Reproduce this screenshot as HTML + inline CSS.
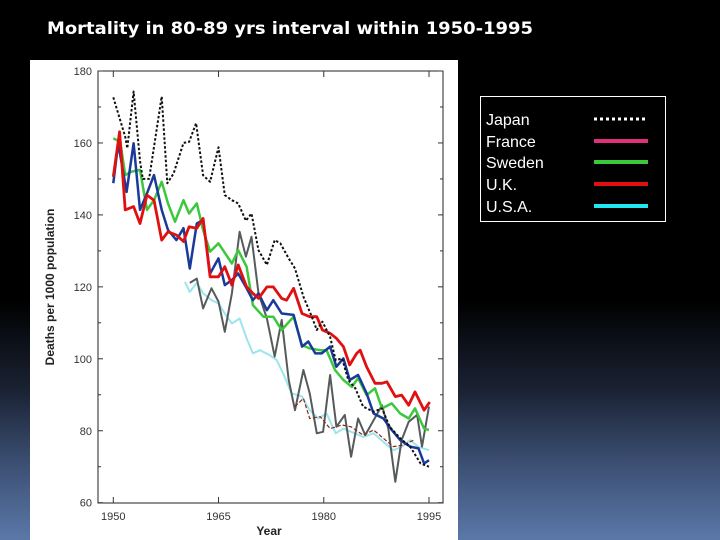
<!DOCTYPE html>
<html><head><meta charset="utf-8"><style>
html,body{margin:0;padding:0;}
body{width:720px;height:540px;overflow:hidden;background:linear-gradient(to bottom,#000 0px,#000 300px,#1a2233 390px,#3a4d70 460px,#5b78a8 540px);font-family:"Liberation Sans",sans-serif;position:relative;}
</style></head><body>
<svg id="chart" width="720" height="540" style="position:absolute;left:0;top:0">
<text x="47" y="34" font-family="DejaVu Sans, sans-serif" font-weight="bold" font-size="17" fill="#fff" textLength="486" lengthAdjust="spacingAndGlyphs">Mortality in 80-89 yrs interval within 1950-1995</text>
</svg>
<script>
const xTicks=[1950,1965,1980,1995];
const yTicks=[60,80,100,120,140,160,180];
const legendLabels=["Japan","France","Sweden","U.K.","U.S.A."];
const legendColors=["#fff","#e0307a","#3cc83c","#e01010","#20e8f0"];
const japanYears=[1950,1951.7,1952,1952.9,1953.8,1954.2,1955.1,1956.9,1957.7,1958.6,1960,1960.8,1961.8,1962.8,1963.8,1965,1965.9,1966.9,1967.8,1968.9,1969.7,1970.7,1971.9,1973,1973.8,1975,1975.9,1977.1,1978.3,1979,1979.8,1980.9,1981.7,1982.6,1983.5,1984.5,1985.6,1987.1,1988.3,1989.4,1990.9,1992.3,1993.8,1995];
const japanVals=[172.7,161.7,158.5,174.3,155,150,150,172.9,148.8,151.5,160,160.3,165.5,151,149.2,158.8,145.5,144.1,143.2,138.4,140.4,130.2,126.1,133,132.1,127.9,125.1,117.3,111.7,108,110.3,106.1,99.6,100.1,94.1,91.8,86.7,85.3,86.2,81.1,77.9,75.6,70.9,70];
const blueYears=[1950,1950.7,1951.9,1952.9,1953.8,1954.8,1955.8,1956.9,1957.8,1959,1960,1960.9,1961.9,1962.8,1963.8,1965,1965.9,1966.9,1967.8,1969,1969.9,1970.7,1971.9,1972.8,1974,1975.7,1976.9,1977.8,1978.8,1979.7,1980.9,1981.8,1982.8,1983.7,1984.9,1986.1,1987.1,1988.5,1989.7,1990.9,1992.3,1993.5,1994.3,1995];
const blueVals=[148.8,159.9,146.4,159.9,141.4,146,151.1,141.4,135.8,133,136.3,125.1,137.6,138.6,123.7,127.9,120.5,121.9,123.7,119.6,116.3,118.2,113.5,116.3,112.6,112.2,103.4,104.8,101.5,101.5,103.4,97.8,100.1,94.1,95.5,90.4,84.8,83.4,80.2,77.4,75.6,75.1,70.9,71.8];
const swedenYears=[1950,1951,1951.7,1952.6,1953.8,1954.8,1955.8,1956.9,1957.8,1958.8,1960,1960.8,1961.9,1962.8,1963.8,1965,1966.9,1967.8,1969,1969.9,1971.4,1972.8,1974,1975.7,1976.9,1978,1979.5,1980.4,1981.6,1982.8,1984,1984.9,1986.1,1987.3,1988.3,1989.7,1990.9,1992.1,1993,1994.3,1995];
const swedenVals=[161.3,160.3,151.1,152,152.5,141.4,144.1,149.2,143.2,138.1,144.1,140.4,143.2,135.8,129.8,132.1,126.5,130.2,125.6,114.9,111.7,111.7,108,111.7,103.8,102.9,102.4,102.4,96.9,94.1,92.2,94.6,89.9,91.8,86.2,87.6,84.8,83.4,86.2,80.6,80.2];
const ukYears=[1950,1950.9,1951.7,1952.9,1953.8,1954.8,1955.8,1956.9,1957.8,1959,1960,1960.8,1961.9,1962.8,1963.8,1965,1965.9,1966.9,1967.8,1969,1969.9,1970.7,1971.9,1972.8,1974,1974.7,1975.7,1976.9,1978,1979,1979.8,1980.9,1981.8,1982.8,1983.7,1984.7,1985.2,1986.1,1987.3,1988.3,1989,1990.2,1991.1,1992.1,1993,1994.3,1995.1];
const ukVals=[150.6,163.1,141.4,142.3,137.6,145.5,144.1,133,135.3,134.4,132.6,136.7,136.3,139,122.8,122.8,125.6,120.5,126.1,120,118.2,116.8,120,120,116.8,116.3,119.6,112.6,111.7,111.7,108,107.1,105.7,103.4,98.3,101.5,102.4,97.8,93.2,93.2,93.6,89.5,89.9,87.1,90.8,85.7,88];
const grayYears=[1960.9,1961.9,1962.8,1964,1965,1965.9,1966.9,1968,1968.9,1969.7,1970.7,1971.9,1973,1974,1975,1975.9,1977.1,1978,1979,1979.9,1980.9,1981.8,1983,1983.9,1984.9,1985.9,1987.1,1988.3,1989.2,1990.2,1991.1,1992.1,1993.3,1994,1995];
const grayVals=[121.1,122.3,114,119.6,115.9,107.5,118.2,135.3,128.4,133.9,118.2,111.2,100.6,110.8,94.1,85.7,96.9,90.4,79.3,79.7,95.5,81.1,84.4,72.8,83.4,78.8,82.9,87.1,80.6,65.8,77.4,82.5,84.4,75.6,86.7];
const usaYears=[1960.2,1960.9,1961.9,1962.8,1964,1965,1965.9,1966.9,1968,1969,1969.9,1970.9,1972.3,1973.3,1974.2,1975.4,1976.9,1978,1979.2,1980.4,1981.7,1982.8,1983.9,1985.6,1987.1,1988.5,1989.9,1991.1,1992.3,1993.5,1995];
const usaVals=[121.4,118.6,121.1,118.2,116.3,115.4,112.6,109.8,111.2,105.7,101.5,102.4,101,99.6,95.9,90.4,89.5,85.7,83.4,84.8,79.3,80.6,79.7,78.3,79.3,76.9,74.6,75.5,77.4,75.5,74.6];
const darkRedYears=[1975.9,1977.1,1978,1979.5,1980.9,1982.6,1983.9,1985.6,1987.1,1988.5,1989.9,1991.4,1992.8];
const darkRedVals=[86.7,89,83.4,83.9,80.6,81.6,81.1,78.8,80.2,77.9,75.6,76,77.4];

const NS="http://www.w3.org/2000/svg";
const svg=document.getElementById('chart');
const X0=1950,X1=1995,PX0=113.3,PX1=429,Y0=60,Y1=180,PY0=502.7,PY1=71;
function sx(v){return PX0+(v-X0)/(X1-X0)*(PX1-PX0);}
function sy(v){return PY0-(v-Y0)/(Y1-Y0)*(PY0-PY1);}
function mk(t,a){const e=document.createElementNS(NS,t);for(const k in a)e.setAttribute(k,a[k]);svg.appendChild(e);return e;}

let bg=mk('rect',{x:30,y:60,width:428,height:480,fill:'#fff'});


let frame=mk('rect',{x:98,y:71,width:345,height:432,fill:'none',stroke:'#222','stroke-width':1});



yTicks.forEach(v=>{
  const y=sy(v);
  let t=mk('line',{x1:98,x2:103,y1:y,y2:y,stroke:'#333'});
  
  
  let t2=mk('line',{x1:438,x2:443,y1:y,y2:y,stroke:'#333'});
  
  
  let l=mk('text',{x:92,y:y+4,'text-anchor':'end','font-size':11,fill:'#333'});
  l.textContent=v;
  
  
});
[70,90,110,130,150,170].forEach(v=>{
  const y=sy(v);
  let t=mk('line',{x1:98,x2:101,y1:y,y2:y,stroke:'#333'});
  
  
  let t2=mk('line',{x1:440,x2:443,y1:y,y2:y,stroke:'#333'});
  
  
});
xTicks.forEach(v=>{
  const x=sx(v);
  let t=mk('line',{x1:x,x2:x,y1:503,y2:497,stroke:'#333'});
  
  
  let t2=mk('line',{x1:x,x2:x,y1:71,y2:77,stroke:'#333'});
  
  
  let l=mk('text',{x:x,y:520,'text-anchor':'middle','font-size':11,fill:'#333'});
  l.textContent=v;
  
  
});
let xt=mk('text',{x:269,y:535,'text-anchor':'middle','font-size':12,'font-weight':'bold',fill:'#222'});
xt.textContent='Year';


let yt=mk('text',{x:0,y:0,'text-anchor':'middle','font-size':12,'font-weight':'bold',fill:'#222',transform:'translate(54,287) rotate(-90)'});
yt.textContent='Deaths per 1000 population';



function line(xs,vs,color,w,dash,name){
  const d=xs.map((x,i)=>(i?'L':'M')+sx(x).toFixed(1)+','+sy(vs[i]).toFixed(1)).join('');
  const a={d:d,fill:'none',stroke:color,'stroke-width':w,'stroke-linejoin':'round'};
  if(dash)a['stroke-dasharray']=dash;
  let p=mk('path',a);
  
  
}
line(usaYears,usaVals,'#9ce4ee',2,null,'series-usa');
line(grayYears,grayVals,'#555b5b',2,null,'series-gray');
line(darkRedYears,darkRedVals,'#8a2a1a',1.2,'4,2','series-dark-red');
line(swedenYears,swedenVals,'#3cc83c',2.5,null,'series-sweden');
line(blueYears,blueVals,'#1a3a9a',2.5,null,'series-blue');
line(ukYears,ukVals,'#e01010',2.8,null,'series-uk');
line(japanYears,japanVals,'#111',2,'2.5,2','series-japan');

let lb=mk('rect',{x:480.5,y:96.5,width:185,height:125,fill:'#000',stroke:'#fff','stroke-width':1});


legendLabels.forEach((s,i)=>{
  const y=[119,141,162,184,206][i];
  let t=mk('text',{x:486,y:y+6,'font-size':16,fill:'#fff'});
  t.textContent=s;
  
  
  let ln=mk('line',{x1:594,x2:648,y1:y,y2:y,stroke:legendColors[i],'stroke-width':i==0?3:4});
  if(i==0)ln.setAttribute('stroke-dasharray','3,3');
  
  
});
</script>
</body></html>
